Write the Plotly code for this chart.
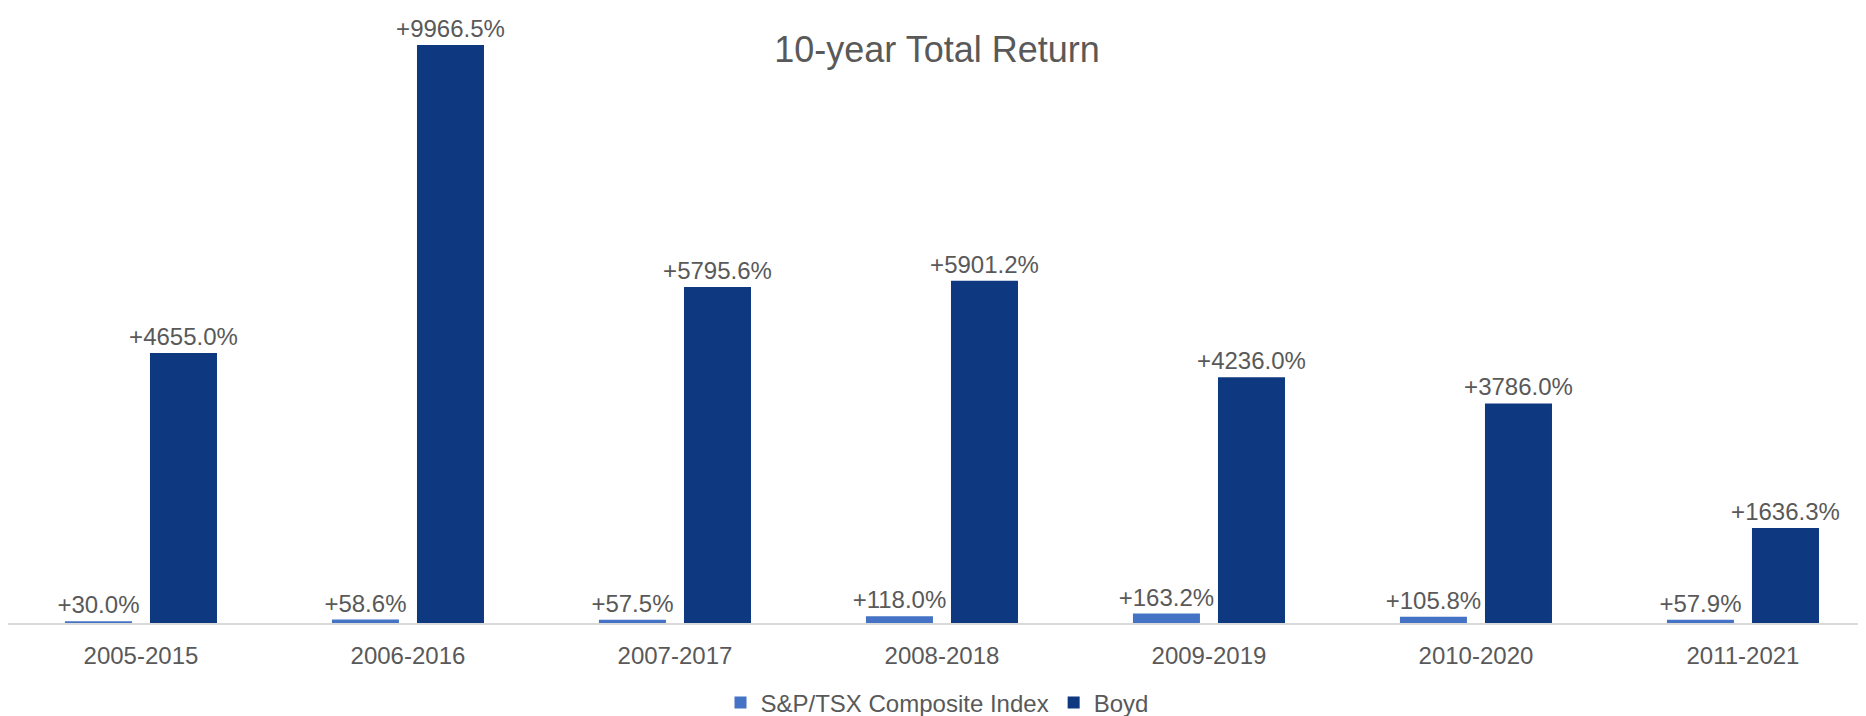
import plotly.graph_objects as go

periods = ["2005-2015", "2006-2016", "2007-2017", "2008-2018", "2009-2019", "2010-2020", "2011-2021"]
sp_tsx = [30.0, 58.6, 57.5, 118.0, 163.2, 105.8, 57.9]
boyd = [4655.0, 9966.5, 5795.6, 5901.2, 4236.0, 3786.0, 1636.3]

FONT = "Liberation Sans, Arial, sans-serif"
GREY = "#595959"

def labels(vals):
    return ["+{:.1f}%".format(v) for v in vals]

fig = go.Figure()
series = [("S&P/TSX Composite Index", sp_tsx, "#4472C4"), ("Boyd", boyd, "#0E3880")]
for name, vals, col in series:
    fig.add_trace(go.Bar(
        x=periods, y=vals, name=name,
        marker=dict(color=col, line=dict(width=12, color="rgba(0,0,0,0)")),
        text=labels(vals), textposition="outside", cliponaxis=False,
        constraintext="none",
        textfont=dict(family=FONT, size=24, color=GREY),
    ))

# page has an 8px body margin: figure coords = page coords - 8
fig.update_layout(
    width=1866, height=716,
    paper_bgcolor="white", plot_bgcolor="white",
    margin=dict(l=0, r=8, t=6, b=101, autoexpand=False),
    barmode="group", bargap=0.363, bargroupgap=0.212,
    font=dict(family=FONT, color=GREY),
    title=dict(text="10-year Total Return", x=(1858 / 2) / 1866, xanchor="center",
               y=1 - 41 / 716, yanchor="middle", yref="container",
               font=dict(family=FONT, size=36, color=GREY)),
    legend=dict(orientation="h", x=0.5, xanchor="center", y=-0.131, yanchor="middle",
                font=dict(family=FONT, size=24, color=GREY), traceorder="normal"),
)
fig.update_xaxes(showgrid=False, showline=True, linecolor="#D9D9D9", linewidth=2,
                 tickfont=dict(family=FONT, size=24, color=GREY), ticks="",
                 ticklabelstandoff=10, range=[-0.498, -0.498 + 1858 / 267], automargin=False)
fig.update_yaxes(range=[0, 10501], visible=False, showgrid=False, zeroline=False,
                 automargin=False)

fig.write_html("out.html")
